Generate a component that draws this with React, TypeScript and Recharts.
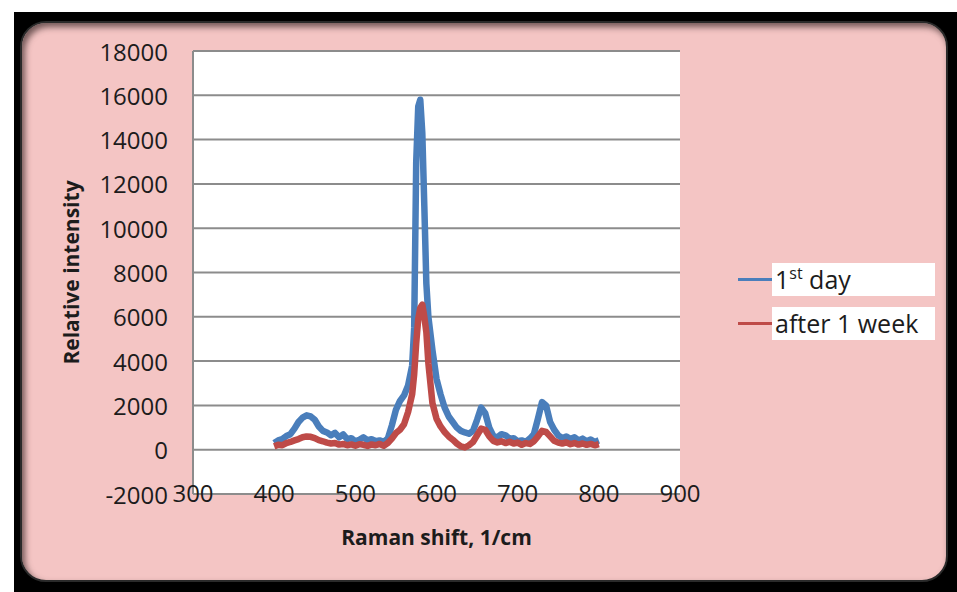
import React from 'react';
import { LineChart, Line, XAxis, YAxis, CartesianGrid, Legend } from 'recharts';

// Raman shift (1/cm) sample positions
const SHIFT = [
  400, 405, 410, 415, 420, 425, 430, 435, 440, 445,
  450, 455, 460, 465, 470, 475, 480, 485, 490, 495,
  500, 505, 510, 515, 520, 525, 530, 535, 540, 545,
  550, 555, 560, 565, 570, 572.5, 575, 577.5, 580, 582.5,
  585, 587.5, 590, 595, 600, 605, 610, 615, 620, 625,
  630, 635, 640, 645, 650, 655, 660, 665, 670, 675,
  680, 685, 690, 695, 700, 705, 710, 715, 720, 725,
  730, 735, 740, 745, 750, 755, 760, 765, 770, 775,
  780, 785, 790, 795, 800,
];

// Relative intensity, first day
const DAY_1 = [
  300, 420, 480, 620, 700, 950, 1250, 1450, 1550, 1500,
  1350, 1050, 850, 780, 650, 760, 560, 690, 480, 520,
  380, 450, 560, 430, 470, 380, 420, 360, 500, 1100,
  1800, 2200, 2450, 2900, 3800, 5500, 13000, 15500, 15800, 14300,
  11000, 7500, 6000, 4500, 3200, 2500, 1900, 1500, 1250, 1000,
  850, 780, 720, 850, 1350, 1900, 1650, 1000, 620, 560,
  700, 650, 500, 520, 380, 420, 360, 500, 700, 1400,
  2150, 2000, 1250, 900, 650, 520, 600, 480, 560, 420,
  500, 380, 460, 350, 420,
];

// Relative intensity, after one week
const WEEK_1 = [
  150, 220, 200, 300, 350, 420, 480, 560, 600, 580,
  520, 430, 380, 320, 280, 300, 230, 260, 200, 240,
  180, 250, 220, 170, 240, 200, 260, 180, 300, 500,
  750, 900, 1150, 1700, 2500, 3400, 4800, 5900, 6400, 6550,
  6000, 5300, 3900, 2100, 1400, 1050, 800, 600, 450, 280,
  150, 100, 200, 350, 650, 950, 900, 600, 400, 330,
  380, 300, 360, 280, 320, 220, 300, 260, 380, 600,
  850, 800, 600, 400, 320, 280, 330, 250, 300, 230,
  280, 220, 260, 200, 250,
];

const SERIES_NAMES = ['1st day', 'after 1 week'];
const SERIES_COLORS = ['#4a7ebb', '#be4b48'];

const X_TICKS = [300, 400, 500, 600, 700, 800, 900];
const Y_TICKS = [-2000, 0, 2000, 4000, 6000, 8000, 10000, 12000, 14000, 16000, 18000];
const X_TITLE = 'Raman shift, 1/cm';
const Y_TITLE = 'Relative intensity';

const data = SHIFT.map((s, i) => ({ shift: s, day1: DAY_1[i], week1: WEEK_1[i] }));

const FONT = "'Open Sans', 'Liberation Sans', sans-serif";
const TEXT = '#1c1c1c';
const GRID = '#8c8c8c';

function XTick(props: any) {
  const { x, y, payload } = props;
  return (
    <text x={x} y={y - 2} textAnchor="middle" dominantBaseline="central"
      fontFamily={FONT} fontSize={24} fill={TEXT}>
      {payload.value}
    </text>
  );
}

function YTick(props: any) {
  const { x, y, payload } = props;
  return (
    <text x={x} y={y} textAnchor="end" dominantBaseline="central"
      fontFamily={FONT} fontSize={24} fill={TEXT}>
      {payload.value}
    </text>
  );
}

function XTitle(props: any) {
  const { viewBox } = props;
  return (
    <text x={viewBox.x + viewBox.width / 2} y={viewBox.y + 43} textAnchor="middle"
      dominantBaseline="central" fontFamily={FONT} fontWeight="bold" fontSize={21} fill={TEXT}>
      {X_TITLE}
    </text>
  );
}

function YTitle(props: any) {
  const { viewBox } = props;
  const cx = 71;
  const cy = viewBox.y + viewBox.height / 2;
  return (
    <text x={cx} y={cy} transform={`rotate(-90 ${cx} ${cy})`} textAnchor="middle"
      dominantBaseline="central" fontFamily={FONT} fontWeight="bold" fontSize={21} fill={TEXT}>
      {Y_TITLE}
    </text>
  );
}

// Raises an ordinal suffix ("1st" -> 1 + superscript "st")
function LegendName({ name }: { name: string }) {
  const m = /^(\d+)(st|nd|rd|th)(.*)$/.exec(name);
  if (!m) return <>{name}</>;
  return (
    <>
      {m[1]}
      <span style={{ fontSize: 16, position: 'relative', top: -10 }}>{m[2]}</span>
      {m[3]}
    </>
  );
}

function renderLegend(props: any) {
  const payload = props.payload || [];
  return (
    <div style={{ display: 'flex', flexDirection: 'column', gap: 11 }}>
      {payload.map((entry: any) => (
        <div key={entry.value} style={{ display: 'flex', alignItems: 'center', height: 33 }}>
          <div style={{ width: 34, height: 3, background: entry.color }} />
          <div style={{
            width: 163, height: 33, background: '#fff', fontFamily: FONT, fontSize: 25,
            lineHeight: '33px', color: TEXT, paddingLeft: 3, boxSizing: 'border-box',
            whiteSpace: 'nowrap',
          }}>
            <LegendName name={entry.value} />
          </div>
        </div>
      ))}
    </div>
  );
}

export default function App() {
  return (
    <div style={{ position: 'absolute', left: 0, top: 0, width: 957, height: 592, background: '#fff', overflow: 'hidden' }}>
      <div style={{ position: 'absolute', left: 14, top: 12, right: 0, bottom: 0, background: '#000' }} />
      <div style={{
        position: 'absolute', left: 20, top: 21, width: 928, height: 561, borderRadius: 26,
        background: '#f4c5c4', border: '2px solid #2a2a2a', boxSizing: 'border-box',
        boxShadow: 'inset 3px 4px 6px rgba(70,50,50,0.75)',
      }} />
      <div style={{ position: 'absolute', left: 0, top: 0 }}>
        <LineChart width={957} height={592} data={data}
          margin={{ top: 51, right: 277, bottom: 38, left: 20 }}>
          <CartesianGrid vertical={false} fill="#ffffff" stroke={GRID} strokeWidth={2} />
          <XAxis dataKey="shift" type="number" domain={[300, 900]} ticks={X_TICKS}
            height={60} tickSize={0} tickMargin={0} tickLine={false}
            axisLine={{ stroke: GRID, strokeWidth: 2 }} tick={<XTick />} interval={0}
            label={<XTitle />} />
          <YAxis type="number" domain={[-2000, 18000]} ticks={Y_TICKS} width={173}
            tickSize={0} tickMargin={25} tickLine={false}
            axisLine={{ stroke: GRID, strokeWidth: 2 }} tick={<YTick />} interval={0}
            label={<YTitle />} />
          <Legend layout="vertical" align="center" verticalAlign="middle"
            content={renderLegend}
            wrapperStyle={{ left: 738, top: 263, width: 200, height: 80 }} />
          <Line type="linear" dataKey="day1" name={SERIES_NAMES[0]} stroke={SERIES_COLORS[0]}
            strokeWidth={6.5} strokeLinejoin="round" dot={false} isAnimationActive={false} />
          <Line type="linear" dataKey="week1" name={SERIES_NAMES[1]} stroke={SERIES_COLORS[1]}
            strokeWidth={6.5} strokeLinejoin="round" dot={false} isAnimationActive={false} />
        </LineChart>
      </div>
    </div>
  );
}
